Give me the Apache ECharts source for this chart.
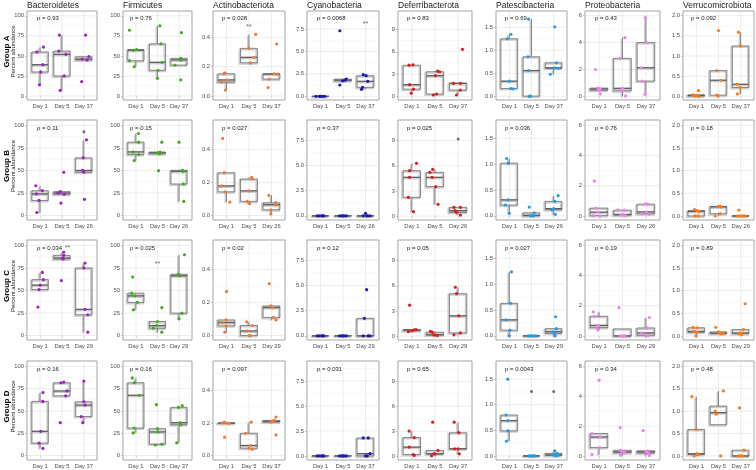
<!DOCTYPE html>
<html>
<head>
<meta charset="utf-8">
<script src="https://cdn.jsdelivr.net/npm/echarts@6/dist/echarts.min.js"></script>
<style>
  html, body { margin: 0; padding: 0; background: #fff; }
  #chart { width: 756px; height: 470px; }
</style>
</head>
<body>
<div id="chart"></div>
<script>
const taxa = ['Bacteroidetes', 'Firmicutes', 'Actinobacteriota', 'Cyanobacteria',
  'Deferribacterota', 'Patescibacteria', 'Proteobacteria', 'Verrucomicrobiota'];
const groups = ['Group A', 'Group B', 'Group C', 'Group D'];
const dayLabels = [
  ['Day 1', 'Day 5', 'Day 37'],
  ['Day 1', 'Day 5', 'Day 26'],
  ['Day 1', 'Day 5', 'Day 29'],
  ['Day 1', 'Day 5', 'Day 37'],
];
const pValues = [
  ['0.93', '0.76', '0.028', '0.0068', '0.83', '0.69', '0.43', '0.092'],
  ['0.11', '0.15', '0.027', '0.37', '0.025', '0.036', '0.76', '0.18'],
  ['0.034', '0.025', '0.02', '0.12', '0.05', '0.027', '0.19', '0.89'],
  ['0.16', '0.16', '0.097', '0.031', '0.65', '0.0043', '0.34', '0.48'],
];
const yTicks = [[0, 25, 50, 75, 100], [0, 25, 50, 75, 100], [0, 0.2, 0.4], [0, 2.5, 5, 7.5],
  [0, 3, 6, 9], [0, 0.5, 1, 1.5], [0, 2, 4, 6], [0, 0.5, 1, 1.5, 2]];
const yTickLabels = [['0', '25', '50', '75', '100'], ['0', '25', '50', '75', '100'], ['0.0', '0.2', '0.4'],
  ['0.0', '2.5', '5.0', '7.5'], ['0', '3', '6', '9'], ['0.0', '0.5', '1.0', '1.5'], ['0', '2', '4', '6'],
  ['0.0', '0.5', '1.0', '1.5', '2.0']];
const yMinor = [[12.5, 37.5, 62.5, 87.5], [12.5, 37.5, 62.5, 87.5], [0.1, 0.3, 0.5], [1.25, 3.75, 6.25, 8.75],
  [1.5, 4.5, 7.5, 10.5], [0.25, 0.75, 1.25, 1.75], [1, 3, 5], [0.25, 0.75, 1.25, 1.75]];
const yRange = [[-5, 106], [-5, 106], [-0.027, 0.58], [-0.41, 9.5], [-0.45, 11.45], [-0.08, 1.855],
  [-0.27, 6.35], [-0.09, 2.116]];
const pointColors = ['#a020c0', '#3cae1e', '#ee7b3c', '#1c1cae', '#dd1c1c', '#1f9ded', '#f07ef0', '#ff7a12'];

// points per taxon: [group][day] -> [jitter, value]
const bacteroidetes = [
  [[[0.15, 61], [-0.15, 55], [0.12, 39], [0.03, 30], [-0.03, 14]],
    [[-0.12, 76], [-0.15, 56], [0.18, 52], [0.1, 25], [-0.08, 7]],
    [[0.08, 76], [0.23, 49], [-0.08, 46], [0.14, 45], [-0.1, 18]]],
  [[[-0.2, 33], [0.1, 27.5], [-0.17, 24], [-0.05, 16.7], [-0.15, 3.3]],
    [[0.08, 48], [-0.08, 26.5], [-0.18, 25], [0.1, 23.5], [-0.05, 13.8]],
    [[0.12, 84], [-0.03, 64], [-0.06, 50], [0, 48], [0.03, 18]]],
  [[[0.1, 70], [0.15, 62], [0, 56], [-0.05, 51], [-0.1, 31.5]],
    [[0.08, 92.6], [0.08, 89], [0.02, 86], [0.05, 85], [-0.03, 61]],
    [[0.05, 80.4], [0, 75], [0.05, 29], [0.18, 23], [0.18, 3.7]]],
  [[[0.13, 70.6], [0.12, 60.7], [0.03, 27.2], [-0.05, 14], [0.13, 8]],
    [[0.08, 82.4], [-0.05, 81.6], [0.23, 72.4], [0.17, 67], [-0.08, 36.8]],
    [[0, 83.5], [0, 60.3], [0.05, 56.6], [-0.12, 43.8], [-0.05, 36.8]]],
];
const firmicutes = [
  [[[-0.3, 82], [0.03, 58], [-0.12, 57], [-0.3, 44], [-0.08, 36.5]],
    [[0.11, 87.5], [0.16, 65], [0.21, 42], [0.02, 32], [0, 22]],
    [[0.11, 79], [0.08, 47], [0.05, 45], [-0.19, 38.6], [0.08, 20]]],
  [[[0.12, 91], [0.12, 81.4], [-0.13, 70.6], [0.13, 67.7], [-0.08, 61]],
    [[0.2, 81.4], [0.12, 70.5], [0.02, 69.5], [0.1, 68.5], [0.05, 49.8]],
    [[0, 81.4], [0.15, 50.2], [0.2, 49], [0.2, 35], [0.22, 15.6]]],
  [[[-0.15, 64.8], [-0.2, 47], [-0.05, 44], [0.07, 36.7], [-0.12, 28.5]],
    [[0.2, 31], [0, 15.5], [-0.03, 11], [-0.2, 8.1], [0.2, 3.7]],
    [[0.25, 89.6], [-0.03, 68], [0.03, 66.3], [0.13, 24.8], [0, 18.5]]],
  [[[-0.17, 87], [-0.08, 81.6], [0.15, 67.6], [-0.08, 30.9], [-0.13, 25.4]],
    [[-0.05, 57], [0, 30.1], [0.02, 26.5], [-0.1, 11.8], [0.2, 12.9]],
    [[0.15, 55.9], [-0.03, 54], [0.05, 36.8], [0.08, 34.6], [-0.11, 14.3]]],
];
const actinobacteriota = [
  [[[-0.08, 0.159], [-0.12, 0.152], [0.02, 0.11], [-0.23, 0.095], [-0.05, 0.041]],
    [[0.3, 0.42], [0, 0.325], [0.22, 0.264], [0.08, 0.227], [0.05, 0.225]],
    [[0.23, 0.355], [0.12, 0.152], [0.28, 0.15], [-0.1, 0.116], [-0.15, 0.058]]],
  [[[-0.17, 0.468], [-0.1, 0.26], [-0.22, 0.18], [-0.07, 0.144], [0.15, 0.082]],
    [[0.12, 0.232], [0.15, 0.222], [0, 0.15], [-0.08, 0.086], [0.03, 0.072]],
    [[-0.12, 0.123], [0.18, 0.078], [0.18, 0.066], [-0.03, 0.035], [-0.03, 0.01]]],
  [[[0, 0.268], [-0.02, 0.095], [-0.2, 0.079], [-0.02, 0.059], [-0.08, 0.02]],
    [[-0.1, 0.083], [0.15, 0.061], [-0.08, 0.028], [0.07, 0], [0, 0]],
    [[-0.1, 0.315], [-0.03, 0.18], [0.05, 0.17], [0.08, 0.11], [0.2, 0.095]]],
  [[[-0.1, 0.205], [0, 0.2], [0.12, 0.197], [-0.2, 0.2], [-0.08, 0.113]],
    [[0.1, 0.205], [-0.15, 0.137], [0.08, 0.062], [0, 0.045], [0.15, 0.039]],
    [[0.2, 0.236], [0.12, 0.216], [0.05, 0.21], [-0.03, 0.205], [0.2, 0.127]]],
];
const cyanobacteria = [
  [[[-0.2, 0], [-0.05, 0], [0.08, 0], [0.18, 0], [0, 0]],
    [[-0.14, 7.3], [0.15, 1.92], [0.08, 1.8], [-0.02, 1.72], [-0.14, 1.26]],
    [[-0.1, 2.41], [0.03, 2.3], [0.1, 1.67], [-0.13, 1.0], [-0.18, 0.78]]],
  [[[-0.15, 0], [-0.05, 0], [0.05, 0], [0.15, 0], [0.1, 0]],
    [[-0.15, 0], [-0.05, 0], [0.05, 0], [0.15, 0], [0, 0]],
    [[0, 0.25], [-0.1, 0], [0.1, 0], [0.2, 0], [0.05, 0]]],
  [[[-0.15, 0], [-0.05, 0], [0.05, 0], [0.15, 0], [0.1, 0]],
    [[-0.15, 0], [-0.05, 0], [0.05, 0], [0.15, 0], [0, 0]],
    [[0.05, 4.58], [-0.05, 1.74], [0.12, 0], [0.2, 0], [-0.1, 0]]],
  [[[-0.15, 0], [-0.05, 0], [0.05, 0], [0.15, 0], [0.1, 0]],
    [[-0.15, 0], [-0.05, 0], [0.05, 0], [0.15, 0], [0, 0]],
    [[-0.1, 1.8], [0.12, 1.8], [0.2, 0.23], [0, 0], [0.08, 0]]],
];
const deferribacterota = [
  [[[0.05, 4.25], [-0.12, 4.2], [-0.1, 1.6], [0.07, 1.0], [-0.03, 0.45]],
    [[0.11, 3.4], [0.2, 3.33], [0.02, 2.8], [0.07, 0.35], [-0.07, 0.22]],
    [[0.19, 6.33], [0.1, 1.78], [-0.2, 1.78], [0.1, 0.89], [-0.07, 0.22]]],
  [[[0.2, 6.3], [-0.1, 5.42], [-0.1, 4.63], [-0.15, 2.25], [0.07, 0.54]],
    [[-0.1, 5.58], [-0.22, 5.22], [-0.12, 4.63], [0.03, 3.52], [0.13, 1.41]],
    [[-0.18, 1.06], [0.1, 1.06], [-0.13, 0.66], [-0.07, 0.46], [0.1, 0.14]]],
  [[[-0.1, 3.7], [0.18, 0.78], [0.1, 0.75], [0, 0.65], [-0.15, 0.55]],
    [[-0.2, 0.57], [-0.12, 0.48], [0, 0.17], [-0.05, 0.15], [0.1, 0.08]],
    [[-0.12, 5.83], [-0.07, 5.06], [0.03, 2.43], [0.1, 0.4], [-0.18, 0.16]]],
  [[[-0.12, 3.03], [0.1, 2.25], [-0.12, 1.1], [0.06, 0.2], [0.1, 0.1]],
    [[-0.1, 4.1], [0.13, 0.7], [0, 0.29], [-0.05, 0.29], [-0.15, 0.05]],
    [[-0.17, 4.1], [0.03, 2.83], [-0.15, 0.9], [0, 0.9], [0.05, 0.29]]],
];
const patescibacteria = [
  [[[0.07, 1.35], [-0.1, 1.25], [0, 0.33], [0.07, 0.17], [0.18, 0.165]],
    [[-0.13, 1.68], [-0.16, 0.86], [-0.13, 0.56], [-0.1, 0], [-0.05, 0.005]],
    [[0.05, 1.51], [0.12, 0.73], [0.05, 0.62], [0.2, 0.61], [-0.15, 0.48]]],
  [[[-0.12, 1.11], [-0.05, 1.02], [-0.05, 0.31], [-0.18, 0.21], [0, 0.05]],
    [[-0.1, 0.17], [0.12, 0.06], [-0.05, 0], [0.03, 0.01], [0.08, 0]],
    [[0.2, 0.39], [0.05, 0.28], [0, 0.14], [-0.08, 0.12], [0.07, 0.03]]],
  [[[0.1, 1.24], [0.05, 0.63], [-0.15, 0.31], [0.03, 0.11], [0, 0]],
    [[-0.15, 0], [0.1, 0], [0.2, 0], [0, 0], [-0.05, 0]],
    [[0.08, 0.37], [0.12, 0.14], [-0.03, 0.08], [0.05, 0.05], [0.07, 0]]],
  [[[-0.07, 1.5], [-0.15, 0.8], [-0.07, 0.69], [-0.07, 0.49], [-0.13, 0.29]],
    [[-0.1, 0], [0.05, 0], [0.15, 0], [-0.02, 0], [0.1, 0]],
    [[0.05, 0.1], [0.15, 0.05], [-0.05, 0.02], [0.08, 0], [0.2, 0.01]]],
];
const proteobacteria = [
  [[[-0.15, 2.0], [-0.05, 0.62], [0.06, 0.55], [-0.02, 0.45], [0.05, 0.18]],
    [[0.1, 4.37], [-0.1, 2.83], [0, 0.6], [-0.03, 0.42], [0.13, 0.03]],
    [[-0.03, 5.86], [0.03, 4.0], [-0.2, 2.13], [-0.15, 1.14], [-0.04, 0.15]]],
  [[[-0.2, 2.31], [-0.13, 0.52], [-0.05, 0.25], [-0.25, 0.02], [0.05, 0]],
    [[-0.2, 0.4], [0.08, 0.38], [0, 0.1], [-0.07, 0.05], [0.12, 0.02]],
    [[-0.03, 0.8], [0.08, 0.78], [0.02, 0.27], [-0.18, 0.14], [0.15, 0.11]]],
  [[[-0.25, 1.6], [-0.2, 1.3], [-0.05, 0.7], [-0.1, 0.55], [-0.05, 0.4]],
    [[-0.15, 1.87], [-0.1, 0], [0, 0], [0.1, 0]],
    [[0.15, 1.22], [0.05, 0.53], [-0.18, 0.2], [0.1, 0.04], [0, 0]]],
  [[[0, 5.07], [-0.3, 1.5], [0.05, 1.27], [0.03, 0.56], [-0.3, 0.09]],
    [[-0.1, 1.9], [-0.08, 0.38], [0, 0.27], [0.1, 0.22], [-0.08, 0.05]],
    [[-0.12, 1.7], [0.08, 0.35], [0, 0.27], [0.1, 0.2], [0.15, 0.03]]],
];
const verrucomicrobiota = [
  [[[0.1, 0.14], [-0.15, 0.04], [0.05, 0.02], [-0.05, 0.01], [0.12, 0]],
    [[0, 1.63], [-0.08, 0.64], [0.11, 0.4], [-0.08, 0.03], [-0.02, 0.01]],
    [[-0.1, 1.59], [0, 1.25], [-0.15, 0.3], [-0.03, 0.22], [-0.15, 0.06]]],
  [[[-0.08, 0.14], [0.03, 0.12], [0.12, 0.1], [-0.05, 0], [0.1, 0]],
    [[0, 0.21], [0.12, 0.2], [0.07, 0.21], [0.08, 0.05], [-0.15, 0]],
    [[-0.08, 0.13], [0, 0], [0.1, 0], [0.2, 0], [-0.15, 0]]],
  [[[-0.15, 0.19], [0.05, 0.18], [-0.1, 0.1], [0.05, 0.08], [0, 0]],
    [[-0.12, 0.19], [0, 0.09], [0.08, 0.06], [0.2, 0.05], [0.12, 0.05]],
    [[0.2, 0.71], [0.12, 0.14], [0, 0.065], [-0.08, 0.05], [0.05, 0.03]]],
  [[[-0.2, 1.32], [0, 0.59], [0.05, 0.05], [0.1, 0.03], [-0.1, 0]],
    [[0.22, 1.45], [-0.15, 1.0], [-0.1, 0.93], [0.1, 0]],
    [[-0.05, 1.07], [0.15, 0.13], [0, 0], [0.08, 0], [-0.1, 0]]],
];
const taxonPoints = [bacteroidetes, firmicutes, actinobacteriota, cyanobacteria,
  deferribacterota, patescibacteria, proteobacteria, verrucomicrobiota];

// grey outlier dots: [taxon, group, day, value]
const greyPoints = [[0, 1, 3, 93], [4, 1, 3, 9.2], [5, 3, 2, 1.26], [5, 3, 3, 1.26]];
// significance marks: [taxon, group, x, value]
const stars = [[2, 0, 2, 0.47], [3, 0, 3, 8.07], [0, 2, 2.25, 97], [1, 2, 2, 79]];

// layout (equal plot cells, panel starts after the y labels)
const panelLeft = [27, 123, 213, 307, 398, 496, 585, 683];
const panelRight = [97, 192, 285, 379, 472, 567, 660, 754];
const panelTop = [11, 120, 240, 361];
const panelBottom = [100, 220, 340, 460];
const pOffset = [10, 7, 9, 10, 9, 9, 10, 8];
const FONT = '"Liberation Sans", Arial, sans-serif';

function quantile(sorted, p) {
  const h = (sorted.length - 1) * p;
  const lo = Math.floor(h);
  const next = lo + 1 < sorted.length ? sorted[lo + 1] : sorted[lo];
  return sorted[lo] + (h - lo) * (next - sorted[lo]);
}

// ggplot-style box: quartiles, whiskers to the furthest points within 1.5 IQR
function boxStats(pts) {
  const v = pts.map((p) => p[1]).sort((a, b) => a - b);
  const q1 = quantile(v, 0.25);
  const med = quantile(v, 0.5);
  const q3 = quantile(v, 0.75);
  const iqr = q3 - q1;
  const inside = v.filter((x) => x >= q1 - 1.5 * iqr - 1e-9 && x <= q3 + 1.5 * iqr + 1e-9);
  return [Math.min(inside[0], q1), q1, med, q3, Math.max(inside[inside.length - 1], q3)];
}

function renderGridLines(params, api) {
  const cs = params.coordSys;
  const kind = api.value(0);
  const v = api.value(1);
  const major = kind === 0 || kind === 2;
  const style = { stroke: major ? '#e0e0e0' : '#eeeeee', lineWidth: major ? 0.6 : 0.4 };
  if (kind < 2) {
    const y = api.coord([1, v])[1];
    return { type: 'line', shape: { x1: cs.x, y1: y, x2: cs.x + cs.width, y2: y }, style };
  }
  const x = api.coord([v, 0])[0];
  return { type: 'line', shape: { x1: x, y1: cs.y, x2: x, y2: cs.y + cs.height }, style };
}

function renderBox(params, api) {
  const xv = api.value(0);
  const w = api.size([0.75, 0])[0];
  const cx = api.coord([xv, api.value(1)])[0];
  const y = [1, 2, 3, 4, 5].map((d) => api.coord([xv, api.value(d)])[1]);
  const layer = (dx, dy, stroke, lw, medLw) => [
    { type: 'line', shape: { x1: cx + dx, y1: y[3] + dy, x2: cx + dx, y2: y[4] + dy }, style: { stroke, lineWidth: lw } },
    { type: 'line', shape: { x1: cx + dx, y1: y[1] + dy, x2: cx + dx, y2: y[0] + dy }, style: { stroke, lineWidth: lw } },
    { type: 'rect', shape: { x: cx - w / 2 + dx, y: y[3] + dy, width: w, height: y[1] - y[3] },
      style: { fill: 'rgba(0,0,0,0)', stroke, lineWidth: lw } },
    { type: 'line', shape: { x1: cx - w / 2 + dx, y1: y[2] + dy, x2: cx + w / 2 + dx, y2: y[2] + dy },
      style: { stroke, lineWidth: medLw } },
  ];
  return {
    type: 'group',
    children: [...layer(-1, 1, '#cdcdcd', 2, 2.2), ...layer(0, 0, '#5e5e5e', 0.7, 1.3)],
  };
}

const grid = [];
const xAxis = [];
const yAxis = [];
const series = [];
const graphic = [];

taxa.forEach((name, c) => {
  graphic.push({
    type: 'text', x: panelLeft[c], y: 5.5,
    style: { text: name, font: `8.5px ${FONT}`, fill: '#1a1a1a', textVerticalAlign: 'middle' },
  });
});

groups.forEach((g, r) => {
  const mid = (panelTop[r] + panelBottom[r]) / 2 - 4;
  graphic.push({
    type: 'text', x: 6.5, y: mid, rotation: Math.PI / 2,
    style: { text: g, font: `bold 8px ${FONT}`, fill: '#000', textAlign: 'center', textVerticalAlign: 'middle' },
  });
  graphic.push({
    type: 'text', x: 13.5, y: mid, rotation: Math.PI / 2,
    style: { text: 'Percent abundance', font: `6px ${FONT}`, fill: '#1a1a1a', textAlign: 'center', textVerticalAlign: 'middle' },
  });

  taxa.forEach((name, c) => {
    const i = r * 8 + c;
    const h = panelBottom[r] - panelTop[r];
    grid.push({
      left: panelLeft[c], top: panelTop[r],
      width: panelRight[c] - panelLeft[c], height: h,
      show: true, backgroundColor: '#fff', borderColor: '#a3a3a3', borderWidth: 1,
    });
    xAxis.push({
      gridIndex: i, type: 'value', min: 0.4, max: 3.6,
      axisLine: { show: false }, splitLine: { show: false },
      axisTick: { show: true, length: 2, customValues: [1, 2, 3], lineStyle: { color: '#a3a3a3', width: 0.6 } },
      axisLabel: {
        customValues: [1, 2, 3], margin: 3, fontSize: 5.8, color: '#4d4d4d', fontFamily: FONT,
        formatter: (v) => dayLabels[r][Math.round(v) - 1],
      },
    });
    yAxis.push({
      gridIndex: i, type: 'value', min: yRange[c][0], max: yRange[c][1],
      axisLine: { show: false }, splitLine: { show: false },
      axisTick: { show: true, length: 2, customValues: yTicks[c], lineStyle: { color: '#a3a3a3', width: 0.6 } },
      axisLabel: {
        customValues: yTicks[c], margin: 3, fontSize: 5.8, color: '#4d4d4d', fontFamily: FONT,
        formatter: (v) => {
          const k = yTicks[c].findIndex((t) => Math.abs(t - v) < 1e-6);
          return k >= 0 ? yTickLabels[c][k] : '';
        },
      },
    });

    const lines = [
      ...yTicks[c].map((v) => [0, v]),
      ...yMinor[c].filter((v) => v < yRange[c][1]).map((v) => [1, v]),
      [2, 1], [2, 2], [2, 3],
    ];
    series.push({
      type: 'custom', xAxisIndex: i, yAxisIndex: i, renderItem: renderGridLines,
      data: lines, silent: true, z: 1,
    });

    const groupPts = taxonPoints[c][r];
    series.push({
      type: 'custom', xAxisIndex: i, yAxisIndex: i, renderItem: renderBox, silent: true, z: 2,
      encode: { x: 0, y: [1, 2, 3, 4, 5] },
      data: groupPts.map((pts, d) => [d + 1, ...boxStats(pts)]),
    });

    const scatterData = [];
    groupPts.forEach((pts, d) => pts.forEach((p) => scatterData.push([d + 1 + p[0], p[1]])));
    series.push({
      type: 'scatter', xAxisIndex: i, yAxisIndex: i, symbolSize: 3.2, silent: true, z: 4,
      itemStyle: { color: pointColors[c], opacity: 1 },
      data: scatterData,
    });

    const greys = greyPoints.filter((g2) => g2[0] === c && g2[1] === r).map((g2) => [g2[2], g2[3]]);
    if (greys.length) {
      series.push({
        type: 'scatter', xAxisIndex: i, yAxisIndex: i, symbolSize: 3, silent: true, z: 5,
        itemStyle: { color: '#4a4a4a' }, data: greys,
      });
    }
    const marks = stars.filter((s) => s[0] === c && s[1] === r).map((s) => [s[2], s[3]]);
    if (marks.length) {
      series.push({
        type: 'scatter', xAxisIndex: i, yAxisIndex: i, symbolSize: 0.1, silent: true, z: 5,
        itemStyle: { color: 'rgba(0,0,0,0)' },
        label: { show: true, position: 'inside', formatter: '**', fontSize: 7, color: '#444', fontFamily: FONT },
        data: marks,
      });
    }

    graphic.push({
      type: 'text', x: panelLeft[c] + pOffset[c], y: panelTop[r] + 0.075 * h + 0.5, z: 10,
      style: { text: `p = ${pValues[r][c]}`, font: `6px ${FONT}`, fill: '#1a1a1a', textVerticalAlign: 'middle' },
    });
  });
});

const chart = echarts.init(document.getElementById('chart'), null, { renderer: 'canvas' });
chart.setOption({
  animation: false,
  backgroundColor: '#fff',
  textStyle: { fontFamily: FONT },
  grid, xAxis, yAxis, series, graphic,
});
</script>
</body>
</html>
